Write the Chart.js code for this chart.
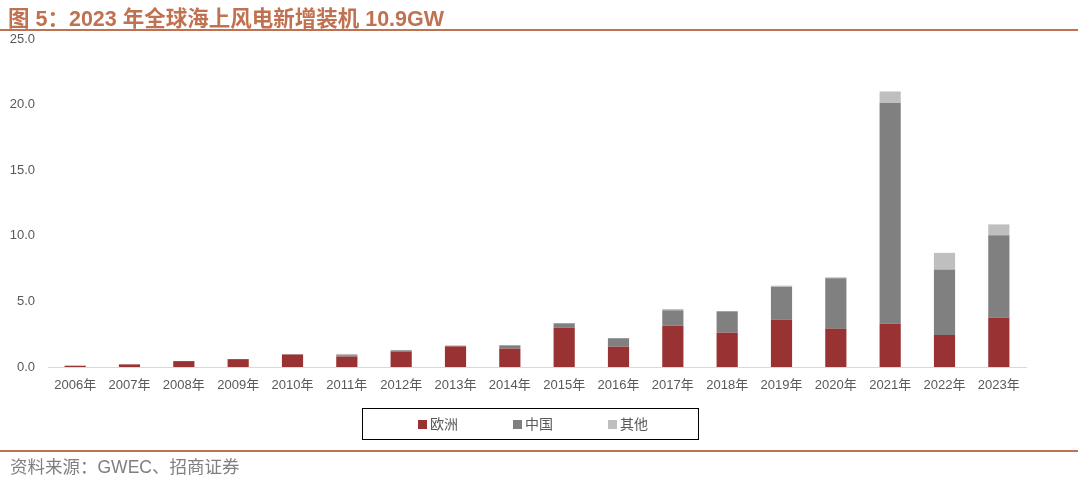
<!DOCTYPE html>
<html><head><meta charset="utf-8">
<script src="https://cdn.jsdelivr.net/npm/chart.js@4"></script>
<style>
html,body{margin:0;padding:0;background:#fff;width:1078px;height:477px;overflow:hidden;font-family:"Liberation Sans","Noto Sans CJK SC",sans-serif;}
#title{position:absolute;left:8px;top:1px;font-size:21.5px;font-weight:bold;color:#c0714f;white-space:nowrap;font-family:"Liberation Sans","Noto Sans CJK SC",sans-serif;}
#tline{position:absolute;left:0;top:29px;width:1078px;height:2px;background:#c0714f;}
#bline{position:absolute;left:0;top:450px;width:1078px;height:2px;background:#c0714f;}
#src{position:absolute;left:10px;top:453px;font-size:17.5px;color:#7f7f7f;white-space:nowrap;font-family:"Liberation Sans","Noto Sans CJK SC",sans-serif;}
#legend{position:absolute;left:362px;top:408px;width:337px;height:32px;border:1.5px solid #000;box-sizing:border-box;font-size:14px;color:#595959;font-family:"Noto Sans CJK SC",sans-serif;}
.li{position:absolute;top:5px;white-space:nowrap;line-height:18px;}
.sw{display:inline-block;width:9px;height:9px;margin-right:3px;vertical-align:0px;}
#wrap{position:absolute;left:0;top:0;width:1078px;height:477px;}
</style></head>
<body>
<div id="wrap"><canvas id="c"></canvas></div>
<div id="title">图 5：2023 年全球海上风电新增装机 10.9GW</div>
<div id="tline"></div>
<div id="bline"></div>
<div id="src">资料来源：GWEC、招商证券</div>
<div id="legend"></div>
<script>
const categories = ["2006年","2007年","2008年","2009年","2010年","2011年","2012年","2013年","2014年","2015年","2016年","2017年","2018年","2019年","2020年","2021年","2022年","2023年"];
const europe = [0.1,0.2,0.45,0.6,0.95,0.8,1.15,1.57,1.4,3.0,1.55,3.15,2.62,3.6,2.92,3.3,2.44,3.75];
const china  = [0,0,0,0,0.02,0.1,0.12,0.05,0.25,0.33,0.64,1.17,1.62,2.5,3.84,16.85,5.0,6.3];
const other  = [0,0,0,0,0.02,0.1,0.03,0.02,0.02,0.02,0.02,0.1,0.03,0.1,0.08,0.85,1.26,0.82];
const seriesNames = ["欧洲","中国","其他"];
const colors = ["#993333","#808080","#bfbfbf"];
const yTicks = [0,5,10,15,20,25];

const lg = document.getElementById('legend');
const lx = [55,150,245];
seriesNames.forEach((n,i)=>{
  const d=document.createElement('div');d.className='li';d.style.left=lx[i]+'px';
  d.innerHTML='<span class="sw" style="background:'+colors[i]+'"></span>'+n;lg.appendChild(d);
});

const font = {family:'"Liberation Sans","Noto Sans CJK SC",sans-serif', size:13};
new Chart(document.getElementById('c'),{
  type:'bar',
  data:{labels:categories,datasets:[europe,china,other].map((d,i)=>({label:seriesNames[i],data:d,backgroundColor:colors[i],borderWidth:0,barPercentage:0.39,categoryPercentage:1}))},
  options:{
    responsive:true,maintainAspectRatio:false,animation:false,
    layout:{padding:{top:39,right:52,left:0,bottom:0}},
    plugins:{legend:{display:false},tooltip:{enabled:false}},
    scales:{
      x:{stacked:true,grid:{display:false,drawTicks:false},border:{display:true,color:'#d9d9d9',width:1},
         ticks:{color:'#595959',font:font,padding:11,maxRotation:0,autoSkip:false},
         afterFit(s){s.height=110;}},
      y:{stacked:true,min:0,max:25,grid:{display:false,drawTicks:false},border:{display:false},
         afterBuildTicks(s){s.ticks=yTicks.map(v=>({value:v}));},
         ticks:{color:'#595959',font:font,padding:13,callback:v=>v.toFixed(1)},
         afterFit(s){s.width=48;}}
    }
  }
});
</script>
</body></html>
